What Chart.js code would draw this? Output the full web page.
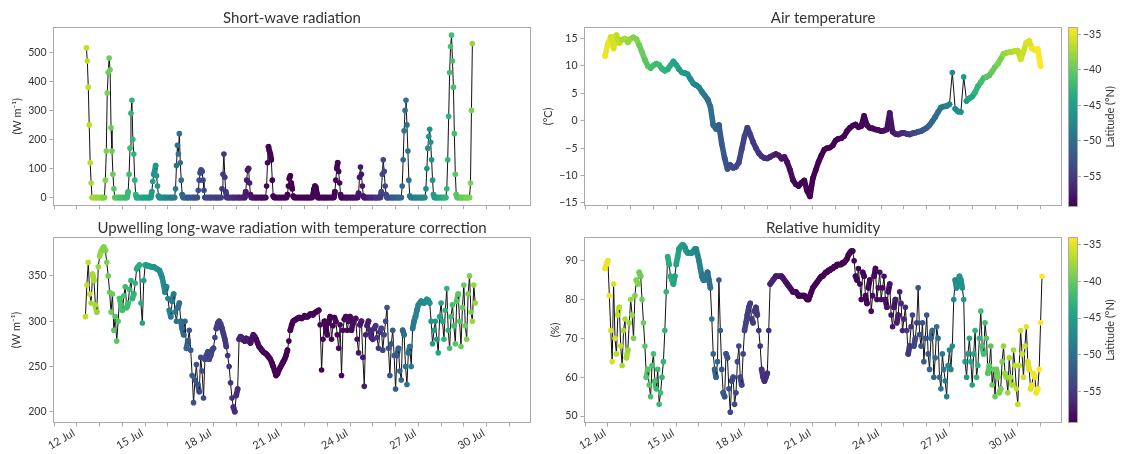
<!DOCTYPE html>
<html>
<head>
<meta charset="utf-8">
<script src="https://cdn.jsdelivr.net/npm/chart.js@4.4.0/dist/chart.umd.min.js"></script>
<style>
  html, body { margin: 0; padding: 0; background: #fff; }
  #wrap { position: relative; width: 1121px; height: 454px; overflow: hidden; }
  canvas { position: absolute; }
</style>
</head>
<body>
<div id="wrap">
  <canvas id="swChart" style="left:0;top:0" width="534" height="215"></canvas>
  <canvas id="lwChart" style="left:0;top:215px" width="534" height="239"></canvas>
  <canvas id="tempChart" style="left:530px;top:0" width="535" height="215"></canvas>
  <canvas id="rhChart" style="left:530px;top:215px" width="535" height="239"></canvas>
  <canvas id="cbTop" style="left:1064px;top:0" width="57" height="215"></canvas>
  <canvas id="cbBottom" style="left:1064px;top:215px" width="57" height="239"></canvas>
</div>
<script>
// time axis in days of July
const X_MIN = 10.95, X_MAX = 31.95;
const dayTicks = [11, 12, 13, 14, 15, 16, 17, 18, 19, 20, 21, 22, 23, 24, 25, 26, 27, 28, 29, 30, 31];

// ship latitude, every 6 h from 11 Jul 18:00
const latStart = 11.75, latStep = 0.25;
const latitude = [
  -34.0, -34.6, -35.5, -36.5, -37.3,
  -38.0, -38.8, -39.7, -40.6,
  -41.4, -42.1, -42.8, -43.6,
  -44.5, -45.3, -46.0, -47.0,
  -48.0, -49.0, -50.0, -51.1,
  -52.2, -53.0, -53.7, -54.0,
  -54.3, -54.7, -55.1, -55.6,
  -56.1, -56.8, -57.5, -58.0,
  -58.5, -58.9, -59.2, -59.3,
  -59.3, -59.3, -59.3, -59.3,
  -59.3, -59.2, -59.2, -59.1,
  -59.0, -59.0, -58.9, -58.7,
  -58.5, -58.2, -57.8, -57.2,
  -56.5, -55.5, -54.2, -53.0,
  -52.0, -51.0, -50.0, -49.0,
  -48.0, -47.2, -46.5, -45.5,
  -44.2, -42.8, -41.5, -40.5,
  -39.8, -39.0, -38.0, -37.2,
  -36.5, -35.8, -35.2, -34.6,
  -34.0
];
const latMin = -59.3, latMax = -33.95;
const latTicks = [-55, -50, -45, -40, -35];

// short-wave radiation (W m-1), hourly from 12 Jul 10:00
const swStart = 12 + 10 / 24, swStep = 1 / 24;
const swRad = [
  515, 470, 380, 250, 120, 50, 0, 0, 0, 0, 0, 0, 0, 0,
  0, 0, 0, 0, 0, 0, 60, 160, 360, 430, 480, 440, 240, 160, 80, 30, 0, 0, 0, 0, 0, 0, 0, 0,
  0, 0, 0, 0, 0, 0, 20, 80, 170, 290, 335, 200, 150, 60, 10, 0, 0, 0, 0, 0, 0, 0, 0, 0,
  0, 0, 0, 0, 0, 0, 0, 20, 55, 80, 90, 110, 75, 40, 5, 0, 0, 0, 0, 0, 0, 0, 0, 0,
  0, 0, 0, 0, 0, 0, 0, 0, 30, 110, 180, 150, 220, 120, 60, 10, 0, 0, 0, 0, 0, 0, 0, 0,
  0, 0, 0, 0, 0, 0, 0, 0, 25, 60, 85, 95, 90, 60, 25, 0, 0, 0, 0, 0, 0, 0, 0, 0,
  0, 0, 0, 0, 0, 0, 0, 0, 0, 30, 80, 150, 70, 20, 0, 0, 0, 0, 0, 0, 0, 0, 0, 0,
  0, 0, 0, 0, 0, 0, 0, 0, 0, 0, 20, 60, 95, 100, 50, 10, 0, 0, 0, 0, 0, 0, 0, 0,
  0, 0, 0, 0, 0, 0, 0, 0, 40, 120, 175, 160, 150, 130, 60, 5, 0, 0, 0, 0, 0, 0, 0, 0,
  0, 0, 0, 0, 0, 0, 10, 40, 65, 75, 50, 30, 5, 0, 0, 0, 0, 0, 0, 0, 0, 0, 0, 0,
  0, 0, 0, 0, 0, 0, 0, 0, 0, 10, 30, 40, 35, 15, 0, 0, 0, 0, 0, 0, 0, 0, 0, 0,
  0, 0, 0, 0, 0, 0, 0, 0, 20, 60, 100, 120, 90, 50, 10, 0, 0, 0, 0, 0, 0, 0, 0, 0,
  0, 0, 0, 0, 0, 0, 0, 0, 0, 15, 70, 105, 80, 40, 5, 0, 0, 0, 0, 0, 0, 0, 0, 0,
  0, 0, 0, 0, 0, 0, 0, 0, 0, 20, 80, 130, 90, 40, 10, 0, 0, 0, 0, 0, 0, 0, 0, 0,
  0, 0, 0, 0, 0, 0, 0, 40, 130, 230, 300, 335, 250, 160, 60, 5, 0, 0, 0, 0, 0, 0, 0, 0,
  0, 0, 0, 0, 0, 0, 0, 0, 30, 100, 170, 210, 235, 190, 130, 60, 10, 0, 0, 0, 0, 0, 0, 0,
  0, 0, 0, 0, 0, 0, 30, 130, 280, 430, 520, 559, 470, 380, 220, 80, 10, 0, 0, 0, 0, 0, 0, 0,
  0, 0, 0, 0, 0, 0, 0, 50, 300, 530
];
const swTicks = [0, 100, 200, 300, 400, 500];

// upwelling long-wave radiation (W m-1), every 1.5 h from 12 Jul 09:00
const lwStart = 12.375, lwStep = 0.0625;
const lwRad = [
  305, 340, 365, 330, 320, 352, 345, 318, 310, 360,
  372, 377, 380, 382, 378, 365, 350, 332, 310, 330, 290, 305, 278, 300, 325, 318,
  312, 328, 338, 315, 320, 335, 345, 325, 330, 342, 358, 360, 362, 320, 298, 345,
  362, 362, 361, 361, 360, 360, 360, 359, 358, 357, 356, 352, 348, 340, 332, 338,
  325, 312, 305, 322, 330, 310, 300, 315, 320, 300, 292, 285, 300, 270, 278, 290,
  268, 240, 210, 235, 252, 230, 222, 260, 245, 215, 258, 262, 266, 258, 262, 268,
  270, 282, 292, 298, 300, 297, 292, 286, 280, 272, 262, 250, 232, 215, 205, 200,
  218, 225, 280, 283, 282, 279, 278, 281, 280, 278, 276, 281, 285, 283, 280, 276,
  272, 270, 268, 266, 265, 264, 262, 260, 258, 254, 250, 245, 240, 242, 246, 249,
  252, 255, 258, 262, 268, 278, 290, 296, 300, 301, 302, 303, 304, 304, 303, 304,
  306, 305, 305, 306, 308, 308, 307, 309, 310, 311, 312, 296, 246, 280, 300, 292,
  285, 298, 305, 280, 295, 304, 300, 285, 270, 296, 240, 290, 302, 305, 290, 300,
  305, 290, 298, 302, 303, 280, 265, 296, 300, 260, 228, 285, 295, 300, 290, 282,
  280, 292, 295, 282, 270, 288, 292, 268, 285, 300, 315, 270, 240, 275, 290, 262,
  225, 262, 270, 245, 235, 290, 285, 250, 230, 265, 272, 250, 292, 300, 305, 312,
  318, 320, 322, 321, 320, 322, 324, 323, 320, 300, 275, 290, 300, 280, 265, 305,
  320, 300, 280, 312, 336, 290, 270, 305, 318, 295, 275, 322, 330, 300, 272, 315,
  340, 295, 280, 330, 350, 310, 300, 340, 320
];
const lwTicks = [200, 250, 300, 350];

// air temperature (°C), 3-hourly from 11 Jul 21:00
const tempStart = 11.875, tempStep = 0.125;
const airTemp = [
  11.8,
  14.0, 15.3, 13.2, 15.6, 14.2, 14.8, 15.0, 14.3,
  15.0, 15.2, 14.9, 13.8, 12.5, 11.1, 10.0, 9.6,
  10.1, 10.4, 10.2, 9.5, 9.1, 9.4, 10.1, 10.8,
  10.2, 9.4, 8.8, 8.7, 8.5, 7.6, 6.8, 6.5,
  6.1, 5.3, 4.6, 3.9, 2.6, -0.8, -1.5, -0.8,
  -4.2, -6.8, -8.8, -8.1, -8.6, -8.4, -7.6, -5.2,
  -2.8, -1.3, -2.5, -3.9, -5.0, -5.9, -6.5, -6.8,
  -6.9, -6.6, -6.3, -6.1, -6.3, -6.9, -6.6, -7.6,
  -9.0, -10.8, -11.6, -11.9, -11.3, -10.9, -12.8, -13.8,
  -10.5, -9.0, -7.5, -6.3, -5.3, -5.0, -4.9, -4.5,
  -3.6, -3.3, -3.2, -2.8, -1.9, -1.3, -0.9, -0.7,
  -1.2, -1.0, 0.9, -0.8, -1.3, -1.4, -1.6, -1.7,
  -1.9, -1.8, -1.6, 1.4, -2.0, -2.4, -2.5, -2.3,
  -2.2, -2.4, -2.5, -2.3, -2.2, -2.0, -1.9, -1.6,
  -1.3, -0.8, -0.1, 0.7, 1.6, 2.4, 2.6, 2.7,
  3.0, 8.8, 2.2, 1.7, 1.6, 8.0, 3.6, 4.1,
  4.4, 5.2, 6.3, 7.0, 7.8, 8.0, 8.3, 9.0,
  9.8, 10.4, 11.3, 12.2, 12.4, 12.5, 12.6, 12.7,
  12.8, 11.2, 12.6, 14.2, 14.6, 13.2, 12.9, 13.1,
  10.0
];
const tempTicks = [-15, -10, -5, 0, 5, 10, 15];

// relative humidity (%), every 1.5 h from 11 Jul 21:00
const rhStart = 11.875, rhStep = 0.0625;
const relHum = [
  88, 89,
  90, 81, 72, 64, 84, 70, 66, 76, 78, 68, 63, 72, 75, 65, 67, 74,
  80, 76, 70, 81, 85, 84, 87, 86, 80, 74, 68, 60, 62, 58, 55, 63,
  66, 59, 57, 62, 53, 56, 60, 64, 72, 82, 91, 89, 86, 85, 84, 86,
  89, 91, 93, 93.5, 94, 94, 93.5, 92.5, 92, 92, 92, 92, 92.5, 93, 93, 91.5,
  90, 88, 86, 85, 85, 86, 87, 85, 83, 75, 66, 62, 60, 64, 85, 72,
  62, 56, 55, 66, 65, 57, 51, 59, 60, 53, 56, 64, 68, 60, 58, 66,
  72, 74, 76, 78, 79, 75, 74, 77, 78, 76, 72, 68, 62, 60, 59, 60,
  61, 72, 84, 84.5, 85, 85.5, 86, 86, 86, 86, 86, 85.5, 85, 84.5, 84, 83.5,
  83, 82.5, 82, 82, 82, 81.5, 81, 81, 81, 81, 81, 80.5, 80, 80, 81, 82,
  83, 83.5, 84, 84.5, 85, 85.5, 86, 86, 86.5, 87, 87, 87.5, 87.5, 88, 88, 88.5,
  88.5, 89, 89, 89, 89, 89.5, 89.5, 90, 90.5, 91.5, 92, 92.5, 92.5, 90, 86, 85,
  88, 84, 80, 87, 86, 81, 79, 83, 85, 77, 81, 86, 88, 80, 83, 87,
  80, 83, 86, 80, 78, 82, 84, 76, 73, 78, 80, 74, 76, 82, 79, 72,
  75, 78, 72, 66, 68, 73, 76, 68, 70, 74, 83, 71, 68, 74, 64, 70,
  76, 66, 62, 70, 72, 60, 65, 73, 70, 60, 57, 66, 62, 59, 55, 63,
  67, 62, 68, 80, 85, 83, 84, 86, 85, 83, 80, 64, 60, 66, 70, 64,
  58, 66, 72, 60, 63, 70, 77, 68, 66, 74, 70, 61, 63, 68, 58, 62,
  55, 62, 60, 56, 57, 64, 68, 61, 60, 56, 65, 60, 58, 67, 63, 57,
  53, 63, 72, 66, 60, 68, 73, 64, 62, 57, 58, 61, 60, 56, 57, 62,
  74, 86
];
const rhTicks = [50, 60, 70, 80, 90];

const FONT = 'Lato, "DejaVu Sans", sans-serif';
const TEXT = '#333333';
const AXIS_GREY = '#aaaaaa';
Chart.defaults.font.family = FONT;
Chart.defaults.font.size = 10.5;
Chart.defaults.color = TEXT;

const VIRIDIS = [
  [68, 1, 84], [72, 36, 117], [65, 68, 135], [53, 95, 141], [42, 120, 142], [33, 145, 140],
  [34, 168, 132], [68, 191, 112], [122, 209, 81], [189, 223, 38], [253, 231, 37]
];

function viridis(f) {
  f = Math.min(1, Math.max(0, f));
  const p = f * 10;
  const i = Math.min(9, Math.floor(p));
  const r = p - i;
  const a = VIRIDIS[i], b = VIRIDIS[i + 1];
  const c = a.map((v, k) => Math.round(v + (b[k] - v) * r));
  return `rgb(${c[0]},${c[1]},${c[2]})`;
}

function latColour(t) {
  let i = Math.round((t - latStart) / latStep);
  i = Math.max(0, Math.min(latitude.length - 1, i));
  return viridis((latitude[i] - latMin) / (latMax - latMin));
}

function toPoints(start, step, values) {
  return values.map((v, i) => ({ x: start + i * step, y: v }));
}

const minus = v => String(v).replace('-', '\u2212');

const framePlugin = {
  id: 'frame',
  afterDraw(chart) {
    const { ctx, chartArea: a } = chart;
    ctx.save();
    ctx.strokeStyle = AXIS_GREY;
    ctx.lineWidth = 1;
    const l = Math.round(a.left) + 0.5, t = Math.round(a.top) + 0.5;
    ctx.strokeRect(l, t, Math.round(a.right) - Math.round(a.left) - 1, Math.round(a.bottom) - Math.round(a.top) - 1);
    ctx.restore();
  }
};

function xScale(showLabels, height) {
  return {
    type: 'linear',
    min: X_MIN,
    max: X_MAX,
    afterBuildTicks: s => { s.ticks = dayTicks.map(v => ({ value: v })); },
    afterFit: s => { s.height = height; },
    border: { display: false },
    grid: { drawOnChartArea: false, tickLength: 3.5, color: AXIS_GREY },
    ticks: {
      display: showLabels,
      autoSkip: false,
      minRotation: 30,
      maxRotation: 30,
      padding: 0,
      labelOffset: -3,
      font: { size: 11 },
      callback: v => ((v - 12) % 3 === 0 ? v + ' Jul' : '')
    }
  };
}

function yScale(min, max, tickVals, title, titlePad, width) {
  return {
    min: min,
    max: max,
    afterBuildTicks: s => { s.ticks = tickVals.map(v => ({ value: v })); },
    afterFit: s => { s.width = width; },
    border: { display: false },
    grid: { drawOnChartArea: false, tickLength: 3.5, color: AXIS_GREY },
    ticks: { padding: 3, callback: v => minus(v) },
    title: { display: true, text: title, font: { size: 11 }, padding: { top: titlePad, bottom: 0 } }
  };
}

function makePanel(id, cfg) {
  const pts = toPoints(cfg.start, cfg.step, cfg.values);
  const colours = pts.map(p => latColour(p.x));
  // short steps merge into a thick coloured trace, long jumps stay thin black lines
  const isJump = c => Math.hypot(c.p1.x - c.p0.x, c.p1.y - c.p0.y) > cfg.jump;
  return new Chart(document.getElementById(id), {
    type: 'scatter',
    data: {
      datasets: [{
        data: pts,
        showLine: true,
        borderColor: '#111111',
        borderWidth: 1,
        borderJoinStyle: 'round',
        pointRadius: 2.8,
        pointBorderWidth: 0,
        pointBackgroundColor: colours,
        pointHoverRadius: 2.8,
        segment: {
          borderColor: c => (isJump(c) ? '#111111' : colours[c.p0DataIndex]),
          borderWidth: c => (isJump(c) ? 1 : 5.6),
          borderCapStyle: c => (isJump(c) ? 'butt' : 'round'),
          borderJoinStyle: 'round'
        }
      }]
    },
    options: {
      responsive: false,
      animation: false,
      events: [],
      layout: { padding: { left: 0, right: cfg.padRight, top: 0, bottom: 0 } },
      scales: {
        x: xScale(cfg.xLabels, cfg.xHeight),
        y: yScale(cfg.yMin, cfg.yMax, cfg.yTicks, cfg.yTitle, cfg.yTitlePad, cfg.yWidth)
      },
      plugins: {
        legend: { display: false },
        tooltip: { enabled: false },
        title: {
          display: true,
          text: cfg.title,
          fullSize: false,
          color: TEXT,
          font: { size: 15, weight: 'normal', lineHeight: 1.2 },
          padding: { top: cfg.titleTop, bottom: 0 }
        }
      }
    },
    plugins: [framePlugin]
  });
}

makePanel('swChart', {
  title: 'Short-wave radiation', start: swStart, step: swStep, values: swRad, jump: 6,
  yMin: -28, yMax: 587, yTicks: swTicks, yTitle: '(W m\u207B\u00B9)', yTitlePad: 10.4, yWidth: 53,
  xLabels: false, xHeight: 3, titleTop: 9, padRight: 3
});

makePanel('lwChart', {
  title: 'Upwelling long-wave radiation with temperature correction', start: lwStart, step: lwStep, values: lwRad, jump: 8,
  yMin: 187.5, yMax: 393, yTicks: lwTicks, yTitle: '(W m\u207B\u00B9)', yTitlePad: 10.1, yWidth: 53,
  xLabels: true, xHeight: 31, titleTop: 4, padRight: 3
});

makePanel('tempChart', {
  title: 'Air temperature', start: tempStart, step: tempStep, values: airTemp, jump: 24,
  yMin: -15.5, yMax: 17.1, yTicks: tempTicks, yTitle: '(\u00B0C)', yTitlePad: 11.7, yWidth: 54,
  xLabels: false, xHeight: 3, titleTop: 9, padRight: 2
});

makePanel('rhChart', {
  title: 'Relative humidity', start: rhStart, step: rhStep, values: relHum, jump: 8,
  yMin: 48.2, yMax: 96.1, yTicks: rhTicks, yTitle: '(%)', yTitlePad: 19.1, yWidth: 54,
  xLabels: true, xHeight: 31, titleTop: 4, padRight: 2
});

// colour bar: viridis gradient over the latitude range
const gradientPlugin = {
  id: 'gradient',
  beforeDatasetsDraw(chart) {
    const { ctx, chartArea: a } = chart;
    const g = ctx.createLinearGradient(0, a.bottom, 0, a.top);
    VIRIDIS.forEach((c, i) => g.addColorStop(i / 10, `rgb(${c[0]},${c[1]},${c[2]})`));
    ctx.save();
    ctx.fillStyle = g;
    ctx.fillRect(a.left, a.top, a.right - a.left, a.bottom - a.top);
    ctx.restore();
  }
};

const latLabelPlugin = {
  id: 'latLabel',
  afterDraw(chart) {
    const { ctx, chartArea: a } = chart;
    ctx.save();
    ctx.translate(46, (a.top + a.bottom) / 2);
    ctx.rotate(-Math.PI / 2);
    ctx.fillStyle = TEXT;
    ctx.font = '11px ' + FONT;
    ctx.textAlign = 'center';
    ctx.textBaseline = 'middle';
    ctx.fillText('Latitude (\u00B0N)', 0, 0);
    ctx.restore();
  }
};

function makeColourBar(id, top, bottom) {
  return new Chart(document.getElementById(id), {
    type: 'scatter',
    data: { datasets: [] },
    options: {
      responsive: false,
      animation: false,
      events: [],
      layout: { padding: { left: 4, right: 0, top: top, bottom: bottom } },
      scales: {
        x: { display: false, min: 0, max: 1 },
        y: {
          position: 'right',
          min: latMin,
          max: latMax,
          afterBuildTicks: s => { s.ticks = latTicks.map(v => ({ value: v })); },
          afterFit: s => { s.width = 43; },
          border: { display: false },
          grid: { drawOnChartArea: false, tickLength: 3, color: AXIS_GREY },
          ticks: { padding: 2, callback: v => minus(v) }
        }
      },
      plugins: { legend: { display: false }, tooltip: { enabled: false } }
    },
    plugins: [gradientPlugin, framePlugin, latLabelPlugin]
  });
}

makeColourBar('cbTop', 27, 3);
makeColourBar('cbBottom', 22, 31);
</script>
</body>
</html>
